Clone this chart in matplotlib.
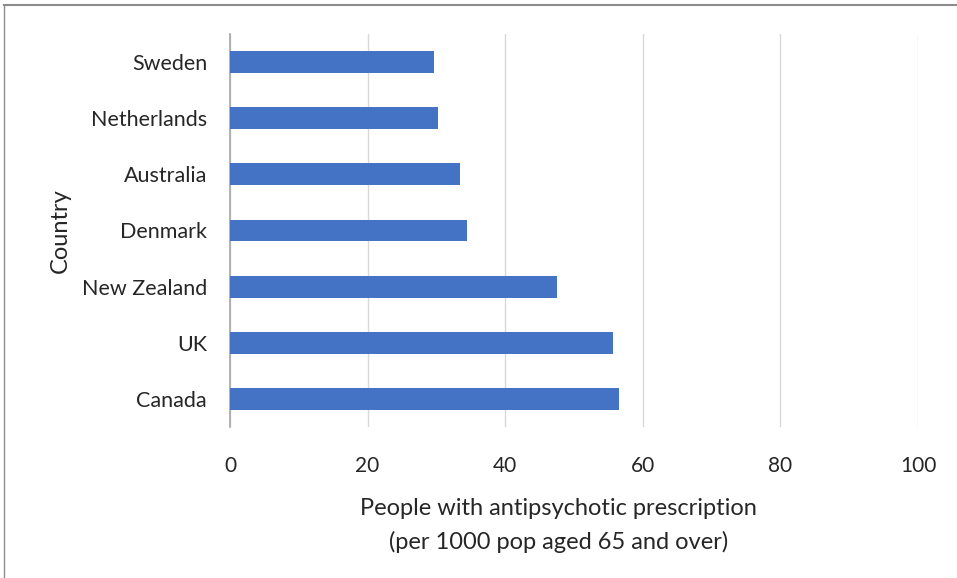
import matplotlib
matplotlib.use("Agg")
import matplotlib.pyplot as plt
from matplotlib.lines import Line2D

# Datos
countries = ["Sweden", "Netherlands", "Australia", "Denmark", "New Zealand", "UK", "Canada"]
rates = [29.6, 30.3, 33.5, 34.4, 47.6, 55.6, 56.5]
x_ticks = [0, 20, 40, 60, 80, 100]

plt.rcParams['font.family'] = ['Lato', 'DejaVu Sans']
txt = '#262626'

fig = plt.figure(figsize=(9.57, 5.78), dpi=100)
ax = fig.add_axes([230/957, 1 - 427/578, 688/957, 393/578])

ypos = list(range(len(countries)))[::-1]
ax.barh(ypos, rates, height=0.39, color='#4472C4', zorder=3)

ax.set_xlim(0, 100)
ax.set_ylim(-0.5, len(countries) - 0.5)
ax.set_xticks(x_ticks)
ax.set_xticklabels([str(t) for t in x_ticks], fontsize=15, color=txt)
ax.set_yticks(ypos)
ax.set_yticklabels(countries, fontsize=15.5, color=txt)
ax.tick_params(axis='both', length=0)
ax.tick_params(axis='x', pad=21)
ax.tick_params(axis='y', pad=16.5)

# Rejilla vertical
ax.grid(axis='x', color='#D9D9D9', linewidth=1, zorder=0)
ax.set_axisbelow(True)
for s in ['top', 'right', 'bottom']:
    ax.spines[s].set_visible(False)
ax.spines['left'].set_color('#A6A6A6')
ax.spines['left'].set_linewidth(1.2)

ax.set_xlabel('People with antipsychotic prescription\n(per 1000 pop aged 65 and over)',
              fontsize=17, color=txt, labelpad=15.5, linespacing=1.65)
ax.xaxis.label.set_x(0.477)
ax.set_ylabel('Country', fontsize=17, color=txt, labelpad=8)

# Marco del área del gráfico (arriba e izquierda)
fig.add_artist(Line2D([4/957, 1], [1 - 5/578, 1 - 5/578], transform=fig.transFigure,
                      color='#8C8C8C', linewidth=1.5))
fig.add_artist(Line2D([4/957, 4/957], [0, 1 - 5/578], transform=fig.transFigure,
                      color='#8C8C8C', linewidth=1.0))

fig.savefig('out.png', dpi=100, facecolor='white')
